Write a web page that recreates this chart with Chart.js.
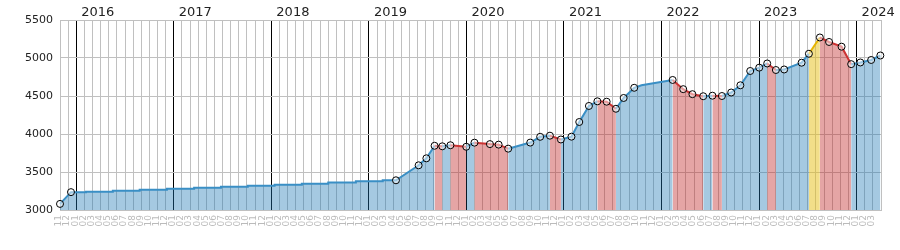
<!DOCTYPE html>
<html>
<head>
<meta charset="utf-8">
<script src="https://cdn.jsdelivr.net/npm/chart.js@4.4.1/dist/chart.umd.min.js"></script>
<style>
  html, body { margin: 0; padding: 0; background: #fff; }
  canvas { display: block; }
</style>
</head>
<body>
<canvas id="chart" width="900" height="250"></canvas>
<script>
// x values are months counted from the start of Nov 2015 (0 = 2015-11)
const years = ["2016", "2017", "2018", "2019", "2020", "2021", "2022", "2023", "2024"];
const monthNames = ["01", "02", "03", "04", "05", "06", "07", "08", "09", "10", "11", "12"];

// measured points, drawn with a circle
const markMonths = [0, 1.35, 41.33, 44.12, 45.07, 46.08, 47.03, 48.03, 49.98, 50.99,
    52.89, 53.96, 55.14, 57.85, 59.07, 60.27, 61.62, 62.92, 63.88, 65.07,
    66.11, 67.25, 68.39, 69.34, 70.64, 75.37, 76.67, 77.80, 79.13, 80.26,
    81.43, 82.57, 83.70, 84.91, 86.02, 87.00, 88.07, 89.09, 91.23, 92.13,
    93.48, 94.61, 96.15, 97.33, 98.46, 99.79, 100.92];
const markValues = [3080, 3235, 3391, 3588, 3680, 3845, 3838, 3852, 3832, 3886,
    3867, 3860, 3807, 3887, 3963, 3978, 3928, 3965, 4158, 4369,
    4430, 4425, 4332, 4474, 4608, 4711, 4590, 4524, 4497, 4504,
    4500, 4546, 4641, 4829, 4873, 4928, 4842, 4849, 4938, 5056,
    5270, 5211, 5149, 4919, 4941, 4974, 5033];

// 2016-2019: flat line that steps up a little every few months
const stepMonths = [3.2, 6.5, 9.8, 13.15, 16.5, 19.8, 23.1, 26.4, 29.75, 33.0, 36.4, 39.7];
const stepValues = [3241, 3254, 3267, 3280, 3293, 3307, 3320, 3333, 3346, 3362, 3378, 3391];

// corner in the line without a circle
const bendMonths = [71.53];
const bendValues = [4641];

// the rise drawn in yellow starts at this point
const spikeStarts = [92.13];

const colors = {
    up:    { line: "#3a8fc5", fill: "rgba(31,120,180,0.4)" },
    down:  { line: "#cc3333", fill: "rgba(190,30,30,0.4)" },
    spike: { line: "#e6b400", fill: "rgba(230,190,20,0.5)" }
};

const points = [];
markMonths.forEach((m, i) => points.push({ x: m, y: markValues[i], mark: true }));
let level = markValues[1];
stepMonths.forEach((m, i) => {
    points.push({ x: m, y: level, mark: false });
    points.push({ x: m, y: stepValues[i], mark: false });
    level = stepValues[i];
});
bendMonths.forEach((m, i) => points.push({ x: m, y: bendValues[i], mark: false }));
points.sort((a, b) => a.x - b.x);

function segKind(ctx) {
    const a = ctx.p0.parsed, b = ctx.p1.parsed;
    if (b.y < a.y) return "down";
    if (spikeStarts.includes(a.x)) return "spike";
    return "up";
}

const lastMonth = 101;
const monthTicks = [];
for (let m = 0; m <= lastMonth; m++) monthTicks.push({ value: m });
const yearTicks = years.map((y, i) => ({ value: 2 + 12 * i }));

Chart.defaults.font.family = "'DejaVu Sans', Verdana, sans-serif";

new Chart(document.getElementById("chart"), {
    type: "line",
    data: {
        datasets: [{
            data: points.map(p => ({ x: p.x, y: p.y })),
            borderWidth: 2,
            tension: 0,
            fill: "start",
            clip: 8,
            pointRadius: points.map(p => p.mark ? 3.5 : 0),
            pointBorderColor: "#000",
            pointBorderWidth: 1,
            pointBackgroundColor: "rgba(255,255,255,0.5)",
            borderColor: colors.up.line,
            backgroundColor: colors.up.fill,
            segment: {
                borderColor: ctx => colors[segKind(ctx)].line,
                backgroundColor: ctx => colors[segKind(ctx)].fill
            }
        }]
    },
    options: {
        responsive: false,
        animation: false,
        events: [],
        layout: { padding: { left: 0, right: 19, top: 0, bottom: 0 } },
        plugins: { legend: { display: false }, tooltip: { enabled: false } },
        scales: {
            x: {
                type: "linear",
                position: "bottom",
                min: 0,
                max: lastMonth,
                afterBuildTicks: s => { s.ticks = monthTicks.slice(); },
                afterFit: s => { s.height = 40; },
                grid: {
                    drawTicks: false,
                    color: ctx => (ctx.tick && (ctx.tick.value + 10) % 12 === 0) ? "#000" : "#c0c0c0"
                },
                border: { color: "#c0c0c0" },
                ticks: {
                    autoSkip: false,
                    minRotation: 90,
                    maxRotation: 90,
                    padding: 5,
                    labelOffset: -1,
                    color: "#bbbbbb",
                    font: { size: 9 },
                    callback: v => v >= lastMonth ? "" : monthNames[(v + 10) % 12]
                }
            },
            x2: {
                type: "linear",
                axis: "x",
                position: "top",
                min: 0,
                max: lastMonth,
                afterBuildTicks: s => { s.ticks = yearTicks.slice(); },
                afterFit: s => { s.height = 20; },
                grid: { display: false, drawTicks: false },
                border: { display: false },
                ticks: {
                    autoSkip: false,
                    maxRotation: 0,
                    align: "start",
                    labelOffset: 5,
                    padding: 0,
                    color: "#222",
                    font: { size: 13 },
                    callback: v => years[(v - 2) / 12]
                }
            },
            y: {
                min: 3000,
                max: 5500,
                afterFit: s => { s.width = 60; },
                grid: { color: "#c0c0c0", drawTicks: false },
                border: { color: "#c0c0c0" },
                ticks: {
                    stepSize: 500,
                    padding: 7,
                    color: "#222",
                    font: { size: 11 },
                    callback: v => String(v)
                }
            }
        }
    }
});
</script>
</body>
</html>
